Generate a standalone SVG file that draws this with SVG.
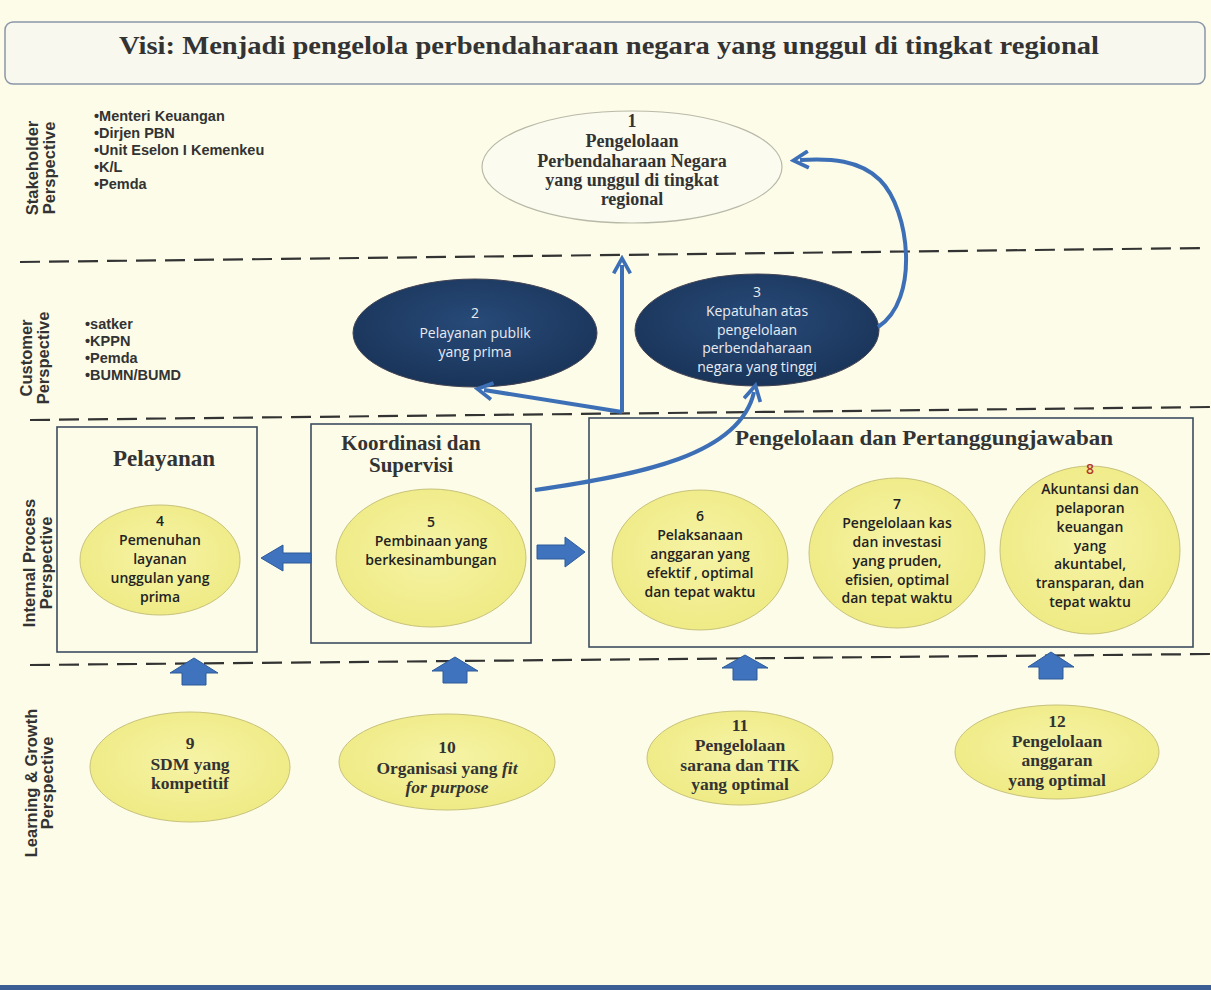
<svg xmlns="http://www.w3.org/2000/svg" width="1211" height="990" viewBox="0 0 1211 990">
<style>
.bg{fill:#fcfce8}
.dash{stroke:#333;stroke-width:2.2;stroke-dasharray:20 9;fill:none}
.persp{font-family:"Liberation Sans",Arial,sans-serif;font-weight:bold;font-size:16.5px;fill:#333;text-anchor:middle}
.list{font-family:"Liberation Sans",Arial,sans-serif;font-weight:bold;font-size:14.5px;fill:#333}
.serif{font-family:"Liberation Serif","DejaVu Serif",serif;font-weight:bold;fill:#333;text-anchor:middle}
.sans{font-family:"Open Sans","Noto Sans",sans-serif;font-weight:600;font-size:14px;fill:#222;text-anchor:middle}
.wt{font-family:"Open Sans","Noto Sans",sans-serif;font-size:14px;fill:#e8ecf4;text-anchor:middle}
.box{fill:none;stroke:#3c4b5e;stroke-width:1.6}
.conn{fill:none;stroke:#3d6fb6;stroke-width:4}
.blk{fill:#3f73be;stroke:#2d5a9a;stroke-width:1}
</style>
<defs>
<radialGradient id="yel" cx="50%" cy="45%" r="60%">
<stop offset="0" stop-color="#f6f3a6"/><stop offset="1" stop-color="#eeea82"/>
</radialGradient>
<radialGradient id="navy" cx="50%" cy="40%" r="60%">
<stop offset="0" stop-color="#274a78"/><stop offset="1" stop-color="#1a3459"/>
</radialGradient>
<marker id="ah" viewBox="0 0 12 12" refX="6" refY="6" markerWidth="5" markerHeight="5" orient="auto" markerUnits="strokeWidth">
<path d="M1,1 L10,6 L1,11" fill="none" stroke="#3d6fb6" stroke-width="2.2"/>
</marker>
</defs>
<rect class="bg" x="0" y="0" width="1211" height="990"/>
<g id="title">
<rect x="5" y="22" width="1200" height="62" rx="8" fill="#f8f8ee" stroke="#8a96a8" stroke-width="1.5"/>
<text class="serif" x="609" y="54" font-size="25" textLength="980" lengthAdjust="spacingAndGlyphs">Visi: Menjadi pengelola perbendaharaan negara yang unggul  di tingkat regional</text>
</g>
<g id="lanes">
<line class="dash" x1="20" y1="262" x2="1205" y2="248"/>
<line class="dash" x1="30" y1="420" x2="1211" y2="407"/>
<line class="dash" x1="30" y1="665" x2="1211" y2="654"/>
<text class="persp" transform="translate(38,168) rotate(-90)">Stakeholder</text>
<text class="persp" transform="translate(55,168) rotate(-90)">Perspective</text>
<text class="persp" transform="translate(32,358) rotate(-90)">Customer</text>
<text class="persp" transform="translate(49,358) rotate(-90)">Perspective</text>
<text class="persp" transform="translate(35,563) rotate(-90)">Internal Process</text>
<text class="persp" transform="translate(52,563) rotate(-90)">Perspective</text>
<text class="persp" transform="translate(37,783) rotate(-90)">Learning &amp; Growth</text>
<text class="persp" transform="translate(53,783) rotate(-90)">Perspective</text>
<text class="list" x="94" y="121">•Menteri Keuangan</text>
<text class="list" x="94" y="138">•Dirjen PBN</text>
<text class="list" x="94" y="155">•Unit Eselon I Kemenkeu</text>
<text class="list" x="94" y="172">•K/L</text>
<text class="list" x="94" y="189">•Pemda</text>
<text class="list" x="85" y="329">•satker</text>
<text class="list" x="85" y="346">•KPPN</text>
<text class="list" x="85" y="363">•Pemda</text>
<text class="list" x="85" y="380">•BUMN/BUMD</text>
</g>
<g id="n1">
<ellipse cx="632" cy="167" rx="150" ry="56" fill="#fbfbef" stroke="#b9b9a8" stroke-width="1.2"/>
<text class="serif" font-size="18"><tspan x="632" y="127">1</tspan><tspan x="632" y="147">Pengelolaan</tspan><tspan x="632" y="167">Perbendaharaan Negara</tspan><tspan x="632" y="186">yang unggul di tingkat</tspan><tspan x="632" y="205">regional</tspan></text>
</g>
<g id="n2">
<ellipse cx="475" cy="333" rx="122" ry="54" fill="url(#navy)" stroke="#445" stroke-width="1"/>
<text class="wt"><tspan x="475" y="318">2</tspan><tspan x="475" y="338">Pelayanan publik</tspan><tspan x="475" y="357">yang prima</tspan></text>
</g>
<g id="n3">
<ellipse cx="757" cy="330" rx="122" ry="56" fill="url(#navy)" stroke="#445" stroke-width="1"/>
<text class="wt"><tspan x="757" y="297">3</tspan><tspan x="757" y="316">Kepatuhan atas</tspan><tspan x="757" y="335">pengelolaan</tspan><tspan x="757" y="353">perbendaharaan</tspan><tspan x="757" y="372">negara yang tinggi</tspan></text>
</g>
<g id="box-pelayanan">
<rect class="box" x="57" y="427" width="200" height="225"/>
<text class="serif" x="164" y="466" font-size="23">Pelayanan</text>
</g>
<g id="box-koordinasi">
<rect class="box" x="311" y="424" width="220" height="219"/>
<text class="serif" font-size="21"><tspan x="411" y="450">Koordinasi dan</tspan><tspan x="411" y="472">Supervisi</tspan></text>
</g>
<g id="box-pengelolaan">
<rect class="box" x="589" y="418" width="604" height="229"/>
<text class="serif" x="924" y="445" font-size="21" textLength="378" lengthAdjust="spacingAndGlyphs">Pengelolaan dan Pertanggungjawaban</text>
</g>
<g id="n4">
<ellipse cx="160" cy="560" rx="80" ry="55" fill="url(#yel)" stroke="#c8c27a" stroke-width="1"/>
<text class="sans"><tspan x="160" y="526">4</tspan><tspan x="160" y="545">Pemenuhan</tspan><tspan x="160" y="564">layanan</tspan><tspan x="160" y="583">unggulan yang</tspan><tspan x="160" y="602">prima</tspan></text>
</g>
<g id="n5">
<ellipse cx="431" cy="558" rx="95" ry="69" fill="url(#yel)" stroke="#c8c27a" stroke-width="1"/>
<text class="sans"><tspan x="431" y="527">5</tspan><tspan x="431" y="546">Pembinaan yang</tspan><tspan x="431" y="565">berkesinambungan</tspan></text>
</g>
<g id="n6">
<ellipse cx="700" cy="560" rx="88" ry="70" fill="url(#yel)" stroke="#c8c27a" stroke-width="1"/>
<text class="sans"><tspan x="700" y="521">6</tspan><tspan x="700" y="540">Pelaksanaan</tspan><tspan x="700" y="559">anggaran yang</tspan><tspan x="700" y="578">efektif , optimal</tspan><tspan x="700" y="597">dan tepat waktu</tspan></text>
</g>
<g id="n7">
<ellipse cx="897" cy="553" rx="88" ry="75" fill="url(#yel)" stroke="#c8c27a" stroke-width="1"/>
<text class="sans"><tspan x="897" y="509">7</tspan><tspan x="897" y="528">Pengelolaan kas</tspan><tspan x="897" y="547">dan investasi</tspan><tspan x="897" y="566">yang pruden,</tspan><tspan x="897" y="585">efisien, optimal</tspan><tspan x="897" y="603">dan tepat waktu</tspan></text>
</g>
<g id="n8">
<ellipse cx="1090" cy="550" rx="90" ry="84" fill="url(#yel)" stroke="#c8c27a" stroke-width="1"/>
<text class="sans"><tspan x="1090" y="474" fill="#b23a2a">8</tspan><tspan x="1090" y="494">Akuntansi dan</tspan><tspan x="1090" y="513">pelaporan</tspan><tspan x="1090" y="532">keuangan</tspan><tspan x="1090" y="551">yang</tspan><tspan x="1090" y="569">akuntabel,</tspan><tspan x="1090" y="588">transparan, dan</tspan><tspan x="1090" y="607">tepat waktu</tspan></text>
</g>
<g id="n9">
<ellipse cx="190" cy="767" rx="100" ry="55" fill="url(#yel)" stroke="#c8c27a" stroke-width="1"/>
<text class="serif" font-size="17.5"><tspan x="190" y="749">9</tspan><tspan x="190" y="770">SDM  yang</tspan><tspan x="190" y="789">kompetitif</tspan></text>
</g>
<g id="n10">
<ellipse cx="447" cy="762" rx="108" ry="48" fill="url(#yel)" stroke="#c8c27a" stroke-width="1"/>
<text class="serif" font-size="17.5"><tspan x="447" y="753">10</tspan><tspan x="447" y="774">Organisasi yang <tspan font-style="italic">fit</tspan></tspan><tspan x="447" y="793" font-style="italic">for purpose</tspan></text>
</g>
<g id="n11">
<ellipse cx="740" cy="758" rx="93" ry="47" fill="url(#yel)" stroke="#c8c27a" stroke-width="1"/>
<text class="serif" font-size="17.5"><tspan x="740" y="731">11</tspan><tspan x="740" y="751">Pengelolaan</tspan><tspan x="740" y="771">sarana dan TIK</tspan><tspan x="740" y="790">yang optimal</tspan></text>
</g>
<g id="n12">
<ellipse cx="1057" cy="752" rx="102" ry="47" fill="url(#yel)" stroke="#c8c27a" stroke-width="1"/>
<text class="serif" font-size="17.5"><tspan x="1057" y="727">12</tspan><tspan x="1057" y="747">Pengelolaan</tspan><tspan x="1057" y="766">anggaran</tspan><tspan x="1057" y="786">yang optimal</tspan></text>
</g>
<g id="connectors">
<path class="conn" d="M622,412 L622,265" marker-end="url(#ah)"/>
<path class="conn" d="M622,412 L484,390" marker-end="url(#ah)"/>
<path class="conn" d="M535,490 C640,475 740,455 754,392" marker-end="url(#ah)"/>
<path class="conn" d="M878,327 C920,300 910,210 880,180 C860,160 830,158 800,160" marker-end="url(#ah)" stroke-width="3.5"/>
<path class="blk" d="M311,553 L283,553 L283,545 L261,558 L283,571 L283,563 L311,563 Z"/>
<path class="blk" d="M537,545 L565,545 L565,537 L585,552 L565,567 L565,559 L537,559 Z"/>
<path class="blk" d="M182,685 L182,673 L170,673 L194,658 L218,673 L206,673 L206,685 Z"/>
<path class="blk" d="M443,683 L443,671 L432,671 L455,657 L478,671 L467,671 L467,683 Z"/>
<path class="blk" d="M733,680 L733,668 L722,668 L745,655 L768,668 L757,668 L757,680 Z"/>
<path class="blk" d="M1039,679 L1039,667 L1028,667 L1051,652 L1074,667 L1063,667 L1063,679 Z"/>
</g>
<rect x="0" y="985" width="1211" height="5" fill="#3b5f94"/>
</svg>
